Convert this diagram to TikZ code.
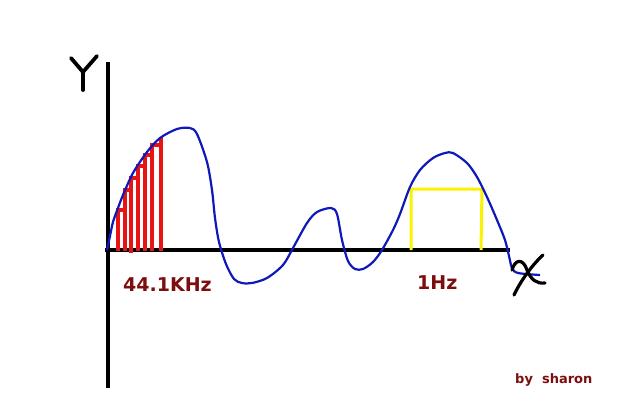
\documentclass[tikz,border=0pt]{standalone}
\usepackage{fontspec}
\setmainfont{DejaVu Sans}
\begin{document}
\begin{tikzpicture}[x=1pt,y=-1pt,
  axisline/.style={line width=3.5pt,black},
  handletter/.style={line width=3.8pt,black,line cap=round,line join=round},
  wave/.style={line width=2.2pt,color=waveblue,line join=round},
  sample/.style={line width=3.2pt,color=samplered},
  window/.style={line width=3pt,color=winyellow},
  lbl/.style={font=\bfseries\fontsize{19}{19}\selectfont,text=lblred,inner sep=0pt,anchor=west}]
\definecolor{waveblue}{RGB}{15,25,185}
\definecolor{samplered}{RGB}{232,20,20}
\definecolor{winyellow}{RGB}{250,242,0}
\definecolor{lblred}{RGB}{125,14,14}
\useasboundingbox[fill=white] (0,0) rectangle (640,400);
% axes
\coordinate (ytop) at (108,62);
\coordinate (ybot) at (108,388);
\coordinate (xl) at (105,250);
\coordinate (xr) at (510,250);
\draw[axisline] (ytop) -- (ybot);
\draw[axisline] (xl) -- (xr);
% handwritten Y
\draw[handletter] (71,58) -- (83,72) -- (97,56);
\draw[handletter] (83,72) -- (83,90);
% red samples
\draw[sample] (118,251) -- (118,210) -- (125,210);
\draw[sample] (125,251) -- (125,190) -- (131,190);
\draw[sample] (131,253) -- (131,178) -- (138,178);
\draw[sample] (138,251) -- (138,166) -- (145,166);
\draw[sample] (145,251) -- (145,155) -- (152,155);
\draw[sample] (152,251) -- (152,145) -- (161,145);
\draw[sample] (161,251) -- (161,137);
% yellow window
\draw[window] (411,250) -- (411,189) -- (482,189) -- (481,250);
% blue wave
\draw[wave] plot[smooth,tension=0.5] coordinates {
(107,250) (110,236) (113,222) (118,208) (123,195) (133,173) (147,152) (160,138)
(177,129) (190,128) (197,134) (207,162) (212,190) (215,218) (219,242)
(226,264) (234,279) (242,283) (252,283) (267,278) (283,265) (293,248) (307,223)
(317,212) (331,208) (337,214) (342,240) (348,261) (355,269) (363,269) (373,262)
(382,250) (393,230) (400,214) (410,187) (420,170) (433,158) (445,153) (453,153)
(467,163) (477,177) (487,197) (497,220) (505,240) (509,256) (512,268) (518,273) (540,275)};
% handwritten X
\draw[handletter,line width=3.2pt] (543,255) .. controls (532,265) and (520,282) .. (514,295);
\draw[handletter,line width=3.2pt] (512,270) .. controls (515,259) and (523,258) .. (527,270)
  .. controls (531,280) and (537,284) .. (545,283);
% labels
\node[lbl] (khz) at (123,285) {44.1KHz};
\node[lbl] (hz) at (417,283) {1Hz};
\node[lbl,font=\bfseries\fontsize{13}{13}\selectfont] (by) at (515,380) {by\ \ sharon};
\end{tikzpicture}
\end{document}
